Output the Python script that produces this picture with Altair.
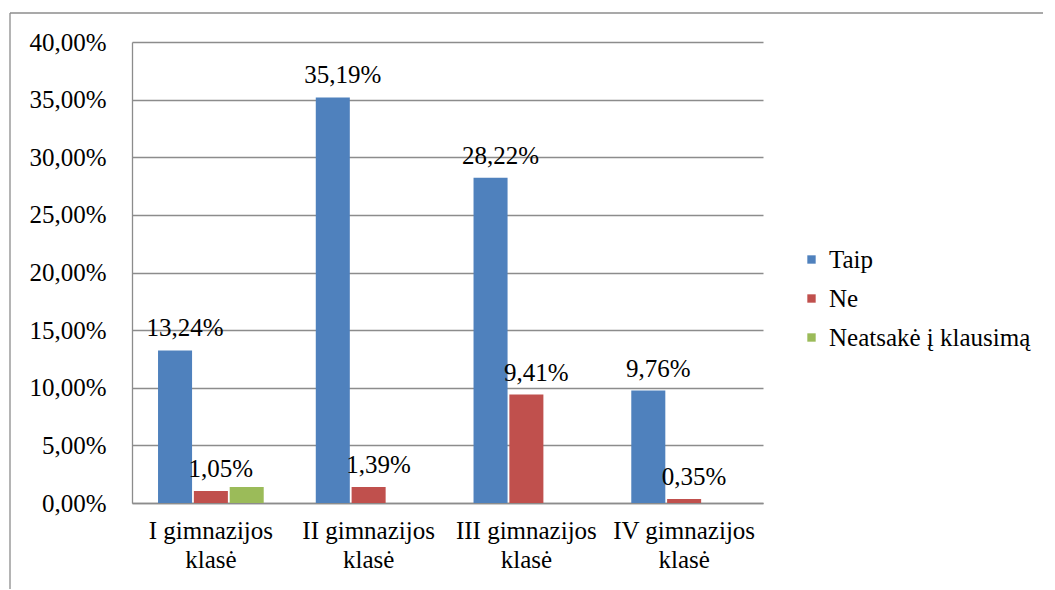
import altair as alt
import pandas as pd

categories = ["I gimnazijos klasė", "II gimnazijos klasė", "III gimnazijos klasė", "IV gimnazijos klasė"]
series = ["Taip", "Ne", "Neatsakė į klausimą"]
taip = [13.24, 35.19, 28.22, 9.76]
ne = [1.05, 1.39, 9.41, 0.35]
neatsake = [1.39, 0.0, 0.0, 0.0]
colors = ["#4F81BD", "#C0504D", "#9BBB59"]

rows = []
for s, vals in zip(series, [taip, ne, neatsake]):
    for c, v in zip(categories, vals):
        rows.append({"cat": c, "series": s, "value": v})
df = pd.DataFrame(rows)

FONT = "Liberation Serif, DejaVu Serif, serif"
FS = 25
GRID = "#8c8c8c"

x_enc = alt.X("cat:N", sort=categories, title=None,
              scale=alt.Scale(paddingInner=0.33, paddingOuter=0.165),
              axis=alt.Axis(labelExpr="[replace(datum.label, ' klasė', ''), 'klasė']",
                            labelAngle=0, labelFont=FONT, labelFontSize=FS, labelColor="#000",
                            labelLineHeight=29, labelPadding=15, ticks=False, labelLimit=0,
                            domainColor=GRID, domainWidth=1.3, labelBaseline="top"))
xoff = alt.XOffset("series:N", sort=series, scale=alt.Scale(paddingInner=0.05))
y_enc = alt.Y("value:Q", title=None,
              scale=alt.Scale(domain=[0, 40], nice=False),
              axis=alt.Axis(values=[0, 5, 10, 15, 20, 25, 30, 35, 40],
                            labelExpr="replace(format(datum.value, '.2f'), '.', ',') + '%'",
                            labelFont=FONT, labelFontSize=FS, labelColor="#000",
                            ticks=False, labelPadding=26, domainColor=GRID, domainWidth=1.3,
                            gridColor=GRID, gridWidth=1.3))

bars = alt.Chart(df).mark_bar().encode(
    x=x_enc, xOffset=xoff, y=y_enc,
    color=alt.Color("series:N", sort=series,
                    scale=alt.Scale(domain=series, range=colors),
                    legend=alt.Legend(title=None, orient="none", legendX=667, legendY=205,
                                      symbolType="square", symbolSize=70, symbolStrokeWidth=0,
                                      labelFont=FONT, labelFontSize=FS, labelColor="#000",
                                      rowPadding=13, labelOffset=5, padding=0, labelLimit=0)),
)

labels = alt.Chart(df).transform_filter(
    "datum.series != 'Neatsakė į klausimą'"
).transform_calculate(
    lab="replace(format(datum.value, '.2f'), '.', ',') + '%'"
).mark_text(font=FONT, fontSize=FS, color="#000", baseline="alphabetic", dy=-14, dx=10).encode(
    x=alt.X("cat:N", sort=categories), xOffset=alt.XOffset("series:N", sort=series),
    y="value:Q", text="lab:N",
)

border_left = alt.Chart(pd.DataFrame({"a": [0]})).mark_rule(color=GRID, strokeWidth=1.3).encode(
    x=alt.value(-122), y=alt.value(-29), y2=alt.value(600))
border_top = alt.Chart(pd.DataFrame({"a": [0]})).mark_rule(color=GRID, strokeWidth=1.3).encode(
    x=alt.value(-122), x2=alt.value(930), y=alt.value(-29))

chart = alt.layer(bars, labels, border_left, border_top).properties(
    width=631, height=461,
    autosize=alt.AutoSizeParams(type="none"),
    padding={"left": 124, "top": 34, "right": 280, "bottom": 86},
).configure_view(stroke=None).configure_axis(grid=False).configure_axisY(grid=True)

chart.save("out.html", embed_options={"renderer": "svg", "actions": False})
